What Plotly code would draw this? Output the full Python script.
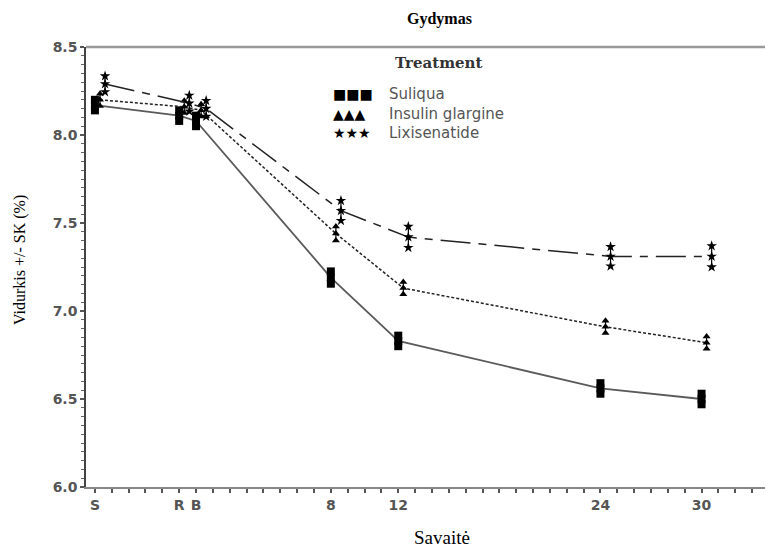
import plotly.graph_objects as go

# ---- data ----
weeks = [-6, -1, 0, 8, 12, 24, 30]
week_labels = ["S", "R", "B", "8", "12", "24", "30"]

suliqua_mean = [8.17, 8.11, 8.08, 7.19, 6.83, 6.56, 6.50]
suliqua_se = [0.03, 0.03, 0.03, 0.035, 0.03, 0.03, 0.03]

glargine_mean = [8.20, 8.16, 8.14, 7.44, 7.13, 6.91, 6.82]
glargine_se = [0.035, 0.035, 0.035, 0.04, 0.035, 0.035, 0.035]

lixi_mean = [8.29, 8.18, 8.15, 7.57, 7.42, 7.31, 7.31]
lixi_se = [0.045, 0.045, 0.045, 0.057, 0.06, 0.055, 0.06]

series_names = ["Suliqua", "Insulin glargine", "Lixisenatide"]

# ---- styling ----
dodge = [0.0, 0.3, 0.6]
symbols = ["square", "triangle-up", "star"]
msizes = [8, 7, 8]
line_styles = [
    dict(color="#5a5a5a", width=1.8, dash="solid"),
    dict(color="#222222", width=1.5, dash="3px,2px"),
    dict(color="#222222", width=1.5, dash="30px,8px,8px,8px"),
]

fig = go.Figure()
all_means = [suliqua_mean, glargine_mean, lixi_mean]
all_se = [suliqua_se, glargine_se, lixi_se]

for i, name in enumerate(series_names):
    xs = [w + dodge[i] for w in weeks]
    m = all_means[i]
    se = all_se[i]
    fig.add_trace(go.Scatter(
        x=xs, y=m, mode="lines+markers", name=name,
        line=line_styles[i],
        marker=dict(symbol=symbols[i], size=msizes[i], color="black"),
        error_y=dict(type="data", array=se, visible=True, thickness=1.2,
                     width=0, color="black"),
        showlegend=False,
    ))
    ends_x = xs + xs
    ends_y = [a + b for a, b in zip(m, se)] + [a - b for a, b in zip(m, se)]
    fig.add_trace(go.Scatter(
        x=ends_x, y=ends_y, mode="markers",
        marker=dict(symbol=symbols[i], size=msizes[i], color="black"),
        showlegend=False, hoverinfo="skip",
    ))

tickfont = dict(family="DejaVu Sans", size=14, color="#555555", weight="bold")

fig.update_xaxes(
    range=[-6.53, 34.24],
    tickvals=weeks, ticktext=week_labels,
    ticks="outside", ticklen=4, tickwidth=1.5, tickcolor="#555555",
    minor=dict(dtick=1, tick0=0, ticks="outside", ticklen=4, tickwidth=1.5,
               tickcolor="#555555"),
    showline=True, linecolor="#888888", linewidth=2,
    showgrid=False, zeroline=False, tickfont=tickfont,
)
fig.update_yaxes(
    range=[6.0, 8.5],
    tickvals=[6.0, 6.5, 7.0, 7.5, 8.0, 8.5], tickformat=".1f",
    ticks="outside", ticklen=4, tickwidth=1.5, tickcolor="#555555",
    minor=dict(dtick=0.05, tick0=6.0, ticks="outside", ticklen=3, tickwidth=1.2,
               tickcolor="#666666"),
    showline=True, linecolor="#444444", linewidth=1.5,
    showgrid=False, zeroline=False, tickfont=tickfont,
)

# page has an 8px body margin, so the figure is offset by (8, 8)
OFF = 8
fig.update_layout(
    width=773 - OFF, height=558 - OFF,
    margin=dict(l=86 - OFF, r=0, t=47 - OFF, b=71),
    plot_bgcolor="white", paper_bgcolor="white",
    shapes=[dict(type="line", xref="paper", yref="paper", x0=0, x1=1, y0=1, y1=1,
                 line=dict(color="#999999", width=2.5))],
)

px_w, px_h = 687, 440


def to_paper(xp, yp):
    return (xp - 86) / px_w, (487 - yp) / px_h


def add_text(ann, text, xp, yp, font, xanchor="center", angle=0):
    x, y = to_paper(xp, yp)
    ann.append(dict(text=text, x=x, y=y, xref="paper", yref="paper",
                    xanchor=xanchor, yanchor="middle", textangle=angle,
                    showarrow=False, font=font))


ann = []
add_text(ann, "<b>Gydymas</b>", 439, 19,
         dict(family="Liberation Serif", size=16, color="black"))
add_text(ann, "Savaitė", 442, 537,
         dict(family="Liberation Serif", size=19, color="black"))
add_text(ann, "Vidurkis +/- SK (%)", 20, 260,
         dict(family="Liberation Serif", size=16, color="black"), angle=-90)
add_text(ann, "<b>Treatment</b>", 438, 63,
         dict(family="DejaVu Serif", size=15, color="#333333"))

legend_glyphs = ["■■■", "▲▲▲", "★★★"]
legend_y = [94, 114, 133]
for g, name, ly in zip(legend_glyphs, series_names, legend_y):
    add_text(ann, g, 331, ly, dict(family="DejaVu Sans", size=14, color="black"),
             xanchor="left")
    add_text(ann, name, 387, ly, dict(family="DejaVu Sans", size=15, color="#555555"),
             xanchor="left")

fig.update_layout(annotations=ann)

fig.write_html("out.html")
